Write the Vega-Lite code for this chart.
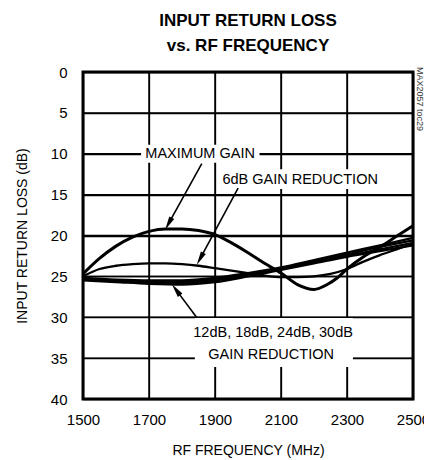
{
  "$schema": "https://vega.github.io/schema/vega-lite/v6.json",
  "width": 330,
  "height": 327,
  "autosize": {"type": "none"},
  "padding": {"left": 83, "top": 72, "right": 11, "bottom": 61},
  "background": "white",
  "title": {
    "text": ["INPUT RETURN LOSS", "vs. RF FREQUENCY"],
    "font": "Liberation Sans",
    "fontSize": 17,
    "fontWeight": "bold",
    "lineHeight": 25,
    "offset": 10,
    "anchor": "middle",
    "color": "black"
  },
  "config": {
    "view": {"stroke": "black", "strokeWidth": 3},
    "font": "Liberation Sans",
    "axis": {
      "grid": true,
      "gridColor": "black",
      "gridWidth": 1.3,
      "gridOpacity": 1,
      "domain": false,
      "ticks": true,
      "tickSize": 4,
      "tickColor": "transparent",
      "labelFontSize": 15,
      "labelColor": "black",
      "labelFlush": false,
      "labelOverlap": false,
      "titleFontSize": 14,
      "titleFontWeight": "normal",
      "titleColor": "black"
    }
  },
  "datasets": {
    "vgrid": [{"f": 1700}, {"f": 1900}, {"f": 2100}, {"f": 2300}],
    "hgrid": [{"rl": 5}, {"rl": 10}, {"rl": 15}, {"rl": 20}, {"rl": 25}, {"rl": 30}, {"rl": 35}],
    "curves": [
      {"s": "max", "f": 1500, "rl": 24.7}, {"s": "max", "f": 1550, "rl": 22.8}, {"s": "max", "f": 1600, "rl": 21.3},
      {"s": "max", "f": 1650, "rl": 20.2}, {"s": "max", "f": 1700, "rl": 19.5}, {"s": "max", "f": 1750, "rl": 19.2},
      {"s": "max", "f": 1800, "rl": 19.2}, {"s": "max", "f": 1850, "rl": 19.4}, {"s": "max", "f": 1900, "rl": 19.9},
      {"s": "max", "f": 1950, "rl": 20.9}, {"s": "max", "f": 2000, "rl": 22.1}, {"s": "max", "f": 2050, "rl": 23.4},
      {"s": "max", "f": 2100, "rl": 24.6}, {"s": "max", "f": 2150, "rl": 26.0}, {"s": "max", "f": 2200, "rl": 26.6},
      {"s": "max", "f": 2240, "rl": 26.0}, {"s": "max", "f": 2270, "rl": 25.2}, {"s": "max", "f": 2300, "rl": 24.1},
      {"s": "max", "f": 2350, "rl": 22.6}, {"s": "max", "f": 2400, "rl": 21.4}, {"s": "max", "f": 2450, "rl": 20.1},
      {"s": "max", "f": 2500, "rl": 18.8},
      {"s": "6dB", "f": 1500, "rl": 25.0}, {"s": "6dB", "f": 1550, "rl": 24.1}, {"s": "6dB", "f": 1600, "rl": 23.7},
      {"s": "6dB", "f": 1650, "rl": 23.5}, {"s": "6dB", "f": 1700, "rl": 23.4}, {"s": "6dB", "f": 1750, "rl": 23.4},
      {"s": "6dB", "f": 1800, "rl": 23.5}, {"s": "6dB", "f": 1850, "rl": 23.7}, {"s": "6dB", "f": 1900, "rl": 24.0},
      {"s": "6dB", "f": 1950, "rl": 24.3}, {"s": "6dB", "f": 2000, "rl": 24.6}, {"s": "6dB", "f": 2050, "rl": 24.9},
      {"s": "6dB", "f": 2100, "rl": 25.1}, {"s": "6dB", "f": 2150, "rl": 25.1}, {"s": "6dB", "f": 2200, "rl": 25.0},
      {"s": "6dB", "f": 2250, "rl": 24.7}, {"s": "6dB", "f": 2300, "rl": 24.1}, {"s": "6dB", "f": 2350, "rl": 23.2},
      {"s": "6dB", "f": 2400, "rl": 22.4}, {"s": "6dB", "f": 2450, "rl": 21.7}, {"s": "6dB", "f": 2500, "rl": 21.0},
      {"s": "12dB", "f": 1500, "rl": 25.2}, {"s": "12dB", "f": 1600, "rl": 25.4}, {"s": "12dB", "f": 1700, "rl": 25.5},
      {"s": "12dB", "f": 1800, "rl": 25.5}, {"s": "12dB", "f": 1900, "rl": 25.2}, {"s": "12dB", "f": 2000, "rl": 24.6},
      {"s": "12dB", "f": 2100, "rl": 23.9}, {"s": "12dB", "f": 2200, "rl": 23.0}, {"s": "12dB", "f": 2300, "rl": 22.1},
      {"s": "12dB", "f": 2400, "rl": 21.2}, {"s": "12dB", "f": 2500, "rl": 20.3},
      {"s": "18dB", "f": 1500, "rl": 25.3}, {"s": "18dB", "f": 1600, "rl": 25.5}, {"s": "18dB", "f": 1700, "rl": 25.7},
      {"s": "18dB", "f": 1800, "rl": 25.7}, {"s": "18dB", "f": 1900, "rl": 25.4}, {"s": "18dB", "f": 2000, "rl": 24.8},
      {"s": "18dB", "f": 2100, "rl": 24.0}, {"s": "18dB", "f": 2200, "rl": 23.2}, {"s": "18dB", "f": 2300, "rl": 22.3},
      {"s": "18dB", "f": 2400, "rl": 21.4}, {"s": "18dB", "f": 2500, "rl": 20.6},
      {"s": "24dB", "f": 1500, "rl": 25.4}, {"s": "24dB", "f": 1600, "rl": 25.6}, {"s": "24dB", "f": 1700, "rl": 25.8},
      {"s": "24dB", "f": 1800, "rl": 25.9}, {"s": "24dB", "f": 1900, "rl": 25.5}, {"s": "24dB", "f": 2000, "rl": 24.9},
      {"s": "24dB", "f": 2100, "rl": 24.1}, {"s": "24dB", "f": 2200, "rl": 23.3}, {"s": "24dB", "f": 2300, "rl": 22.5},
      {"s": "24dB", "f": 2400, "rl": 21.7}, {"s": "24dB", "f": 2500, "rl": 20.9},
      {"s": "30dB", "f": 1500, "rl": 25.5}, {"s": "30dB", "f": 1600, "rl": 25.7}, {"s": "30dB", "f": 1700, "rl": 25.9},
      {"s": "30dB", "f": 1800, "rl": 26.0}, {"s": "30dB", "f": 1900, "rl": 25.7}, {"s": "30dB", "f": 2000, "rl": 25.0},
      {"s": "30dB", "f": 2100, "rl": 24.2}, {"s": "30dB", "f": 2200, "rl": 23.4}, {"s": "30dB", "f": 2300, "rl": 22.6},
      {"s": "30dB", "f": 2400, "rl": 21.9}, {"s": "30dB", "f": 2500, "rl": 21.2}
    ],
    "boxes": [
      {"f": 1676, "f2": 2035, "rl": 8.9, "rl2": 11.1},
      {"f": 1936, "f2": 2388, "rl": 11.9, "rl2": 14.3},
      {"f": 1839, "f2": 2318, "rl": 30.1, "rl2": 36.1}
    ],
    "labels": [
      {"f": 1855, "rl": 10.0, "label": "MAXIMUM GAIN"},
      {"f": 2158, "rl": 13.2, "label": "6dB GAIN REDUCTION"},
      {"f": 2076, "rl": 31.95, "label": "12dB, 18dB, 24dB, 30dB"},
      {"f": 2070, "rl": 34.6, "label": "GAIN REDUCTION"}
    ],
    "arrows": [
      {"a": "max", "f": 1860, "rl": 11.2, "f2": 1758.8, "rl2": 18.58},
      {"a": "6dB", "f": 1970, "rl": 14.2, "f2": 1854.6, "rl2": 22.86},
      {"a": "bundle", "f": 1844, "rl": 30.0, "f2": 1781.6, "rl2": 26.62}
    ]
  },
  "layer": [
    {
      "data": {"name": "vgrid"},
      "mark": {"type": "rule", "color": "black", "strokeWidth": 1.5},
      "encoding": {
        "x": {
          "field": "f", "type": "quantitative",
          "scale": {"domain": [1500, 2500], "nice": false, "zero": false},
          "axis": {
            "title": "RF FREQUENCY (MHz)",
            "values": [1500, 1700, 1900, 2100, 2300, 2500],
            "format": "d",
            "grid": true,
            "labelPadding": 9,
            "titlePadding": 16
          }
        },
        "y": {"datum": 0, "type": "quantitative"},
        "y2": {"datum": 40}
      }
    },
    {
      "data": {"name": "hgrid"},
      "mark": {"type": "rule", "color": "black", "strokeWidth": 1.5},
      "encoding": {
        "y": {
          "field": "rl", "type": "quantitative",
          "scale": {"domain": [0, 40], "nice": false, "zero": false, "reverse": true},
          "axis": {
            "title": "INPUT RETURN LOSS (dB)",
            "values": [0, 5, 10, 15, 20, 25, 30, 35, 40],
            "format": "d",
            "grid": true,
            "labelPadding": 12,
            "titlePadding": 21
          }
        },
        "x": {"datum": 1500, "type": "quantitative"},
        "x2": {"datum": 2500}
      }
    },
    {
      "data": {"name": "boxes"},
      "mark": {"type": "rect", "fill": "white"},
      "encoding": {
        "x": {"field": "f", "type": "quantitative"},
        "x2": {"field": "f2"},
        "y": {"field": "rl", "type": "quantitative"},
        "y2": {"field": "rl2"}
      }
    },
    {
      "data": {"name": "curves"},
      "transform": [{"filter": "datum.s !== 'max'"}],
      "mark": {"type": "line", "color": "black", "strokeWidth": 2.3, "interpolate": "monotone"},
      "encoding": {
        "x": {"field": "f", "type": "quantitative"},
        "y": {"field": "rl", "type": "quantitative"},
        "detail": {"field": "s", "type": "nominal"}
      }
    },
    {
      "data": {"name": "curves"},
      "transform": [{"filter": "datum.s === 'max'"}],
      "mark": {"type": "line", "color": "black", "strokeWidth": 3, "interpolate": "monotone"},
      "encoding": {
        "x": {"field": "f", "type": "quantitative"},
        "y": {"field": "rl", "type": "quantitative"}
      }
    },
    {
      "data": {"name": "arrows"},
      "mark": {"type": "rule", "color": "black", "strokeWidth": 1.6},
      "encoding": {
        "x": {"field": "f", "type": "quantitative"},
        "y": {"field": "rl", "type": "quantitative"},
        "x2": {"field": "f2"},
        "y2": {"field": "rl2"}
      }
    },
    {
      "data": {"name": "arrows"},
      "transform": [{"filter": "datum.a === 'max'"}],
      "mark": {"type": "point", "shape": "M0,-1L0.4,1L-0.4,1Z", "size": 196, "filled": true, "opacity": 1, "color": "black", "angle": 208.8},
      "encoding": {
        "x": {"field": "f2", "type": "quantitative"},
        "y": {"field": "rl2", "type": "quantitative"}
      }
    },
    {
      "data": {"name": "arrows"},
      "transform": [{"filter": "datum.a === '6dB'"}],
      "mark": {"type": "point", "shape": "M0,-1L0.4,1L-0.4,1Z", "size": 196, "filled": true, "opacity": 1, "color": "black", "angle": 208.5},
      "encoding": {
        "x": {"field": "f2", "type": "quantitative"},
        "y": {"field": "rl2", "type": "quantitative"}
      }
    },
    {
      "data": {"name": "arrows"},
      "transform": [{"filter": "datum.a === 'bundle'"}],
      "mark": {"type": "point", "shape": "M0,-1L0.4,1L-0.4,1Z", "size": 196, "filled": true, "opacity": 1, "color": "black", "angle": 323.1},
      "encoding": {
        "x": {"field": "f2", "type": "quantitative"},
        "y": {"field": "rl2", "type": "quantitative"}
      }
    },
    {
      "data": {"name": "labels"},
      "mark": {"type": "text", "fontSize": 14.5, "color": "black", "align": "center", "baseline": "middle"},
      "encoding": {
        "x": {"field": "f", "type": "quantitative"},
        "y": {"field": "rl", "type": "quantitative"},
        "text": {"field": "label"}
      }
    },
    {
      "data": {"values": [{"label": "MAX2057 toc29"}]},
      "mark": {"type": "text", "fontSize": 9, "color": "#333", "angle": 90, "align": "left", "baseline": "alphabetic", "dx": -5, "dy": -4},
      "encoding": {
        "x": {"datum": 2500},
        "y": {"datum": 0},
        "text": {"field": "label"}
      }
    }
  ]
}
